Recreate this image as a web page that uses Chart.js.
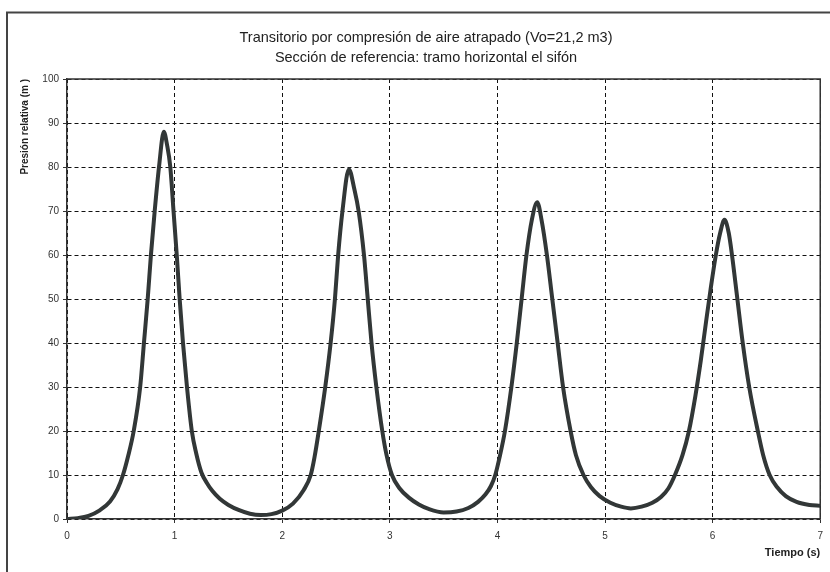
<!DOCTYPE html>
<html>
<head>
<meta charset="utf-8">
<script src="https://cdn.jsdelivr.net/npm/chart.js@4.4.0/dist/chart.umd.min.js"></script>
<style>
  html, body { margin: 0; padding: 0; background: #fff; }
  #wrap { width: 830px; height: 572px; }
</style>
</head>
<body>
<div id="wrap"><canvas id="presionChart" width="830" height="572"></canvas></div>
<script>
// tiempo (s) y presion relativa (m)
const tiempo = [
  0, 0.1, 0.2, 0.3, 0.4, 0.47, 0.52, 0.57, 0.62, 0.68,
  0.715, 0.75, 0.78, 0.815, 0.855, 0.9, 0.93, 0.96, 0.99, 1.02,
  1.047, 1.078, 1.115, 1.16, 1.2, 1.25, 1.3, 1.35, 1.42, 1.5,
  1.6, 1.7, 1.8, 1.9, 2.0, 2.1, 2.2, 2.265, 2.3, 2.34,
  2.4, 2.45, 2.49, 2.52, 2.56, 2.62, 2.67, 2.71, 2.76, 2.795,
  2.83, 2.875, 2.93, 2.97, 3.02, 3.09, 3.18, 3.27, 3.36, 3.5,
  3.62, 3.73, 3.82, 3.89, 3.94, 3.98, 4.02, 4.07, 4.13, 4.18,
  4.225, 4.27, 4.32, 4.37, 4.41, 4.46, 4.51, 4.56, 4.61, 4.68,
  4.73, 4.8, 4.87, 4.95, 5.05, 5.15, 5.24, 5.34, 5.44, 5.52,
  5.59, 5.65, 5.72, 5.78, 5.84, 5.89, 5.94, 5.98, 6.03, 6.07,
  6.11, 6.15, 6.18, 6.23, 6.28, 6.34, 6.42, 6.47, 6.53, 6.6,
  6.68, 6.78, 6.9, 7.0
];
const presion = [
  0, 0.2, 0.7, 1.9, 4.0, 6.8, 10, 14.5, 20, 30,
  40, 50, 60, 70, 80, 88, 85, 80, 70, 60,
  50, 40, 30, 20, 15, 10.5, 8.2, 6.4, 4.6, 3.2,
  2.0, 1.2, 0.9, 1.1, 1.9, 3.5, 6.6, 10, 14, 20,
  30, 40, 50, 60, 70, 79.5, 75, 70, 60, 50,
  40, 30, 20, 14.5, 10, 7.0, 4.8, 3.3, 2.3, 1.5,
  1.7, 2.5, 3.9, 5.6, 7.5, 10, 14, 20, 30, 40,
  50, 60, 68, 72, 68, 60, 50, 40, 30, 20,
  14.5, 10, 7.2, 5.2, 3.7, 2.8, 2.4, 2.8, 3.7, 5.0,
  7.0, 10, 14.5, 20, 28, 36, 45, 52, 60, 65,
  68, 65, 60, 50, 40, 30, 20, 14.5, 10, 7.2,
  5.2, 3.9, 3.2, 3.0
];

const titulo = [
  'Transitorio por compresión de aire atrapado (Vo=21,2 m3)',
  'Sección de referencia: tramo horizontal el sifón'
];
const tituloEjeX = 'Tiempo (s)';
const tituloEjeY = 'Presión relativa (m )';
const limitesX = [0, 7];
const limitesY = [0, 100];

const fuente = 'Liberation Sans, Arial, sans-serif';

const puntos = tiempo.map((t, i) => ({ x: t, y: presion[i] }));

// marco exterior y borde superior/derecho del area de trazado
const marco = {
  id: 'marco',
  beforeDraw(chart) {
    const ctx = chart.ctx;
    ctx.save();
    ctx.fillStyle = '#fff';
    ctx.fillRect(0, 0, chart.width, chart.height);
    ctx.restore();
  },
  beforeDatasetsDraw(chart) {
    const { ctx, chartArea: a } = chart;
    ctx.save();
    ctx.strokeStyle = '#444';
    ctx.lineWidth = 2;
    ctx.strokeRect(7, 12.5, 900, 700);
    ctx.strokeStyle = '#333';
    ctx.lineWidth = 1.5;
    ctx.beginPath();
    ctx.moveTo(a.left, a.top);
    ctx.lineTo(a.right, a.top);
    ctx.lineTo(a.right, a.bottom);
    ctx.stroke();
    ctx.restore();
  }
};

const ctx = document.getElementById('presionChart').getContext('2d');

const presionChart = new Chart(ctx, {
  type: 'line',
  data: {
    datasets: [{
      label: 'Presión relativa',
      data: puntos,
      borderColor: '#323737',
      borderWidth: 4,
      pointRadius: 0,
      fill: false,
      cubicInterpolationMode: 'monotone'
    }]
  },
  options: {
    responsive: false,
    animation: false,
    devicePixelRatio: 1,
    layout: { padding: { left: 29, right: 7, top: 0, bottom: 0 } },
    plugins: {
      legend: { display: false },
      tooltip: { enabled: false },
      title: {
        display: true,
        text: titulo,
        color: '#222',
        font: { family: fuente, size: 14.5, weight: 'normal', lineHeight: '20px' },
        padding: { top: 28, bottom: 11 }
      }
    },
    scales: {
      x: {
        type: 'linear',
        min: limitesX[0],
        max: limitesX[1],
        afterFit(scale) { scale.height = 53; },
        ticks: {
          stepSize: 1,
          color: '#333',
          padding: 7,
          maxRotation: 0,
          font: { family: fuente, size: 10 }
        },
        grid: {
          color: '#111',
          lineWidth: 1,
          tickLength: 4,
          tickColor: '#333',
          tickBorderDash: []
        },
        border: { color: '#333', width: 1.5, dash: [4, 3] },
        title: {
          display: true,
          text: tituloEjeX,
          align: 'end',
          color: '#222',
          font: { family: fuente, size: 11, weight: 'bold' },
          padding: { top: 0, bottom: 12 }
        }
      },
      y: {
        min: limitesY[0],
        max: limitesY[1],
        afterFit(scale) { scale.width = 38; },
        ticks: {
          stepSize: 10,
          color: '#333',
          padding: 4,
          font: { family: fuente, size: 10 }
        },
        grid: {
          color: '#111',
          lineWidth: 1,
          tickLength: 4,
          tickColor: '#333',
          tickBorderDash: []
        },
        border: { color: '#333', width: 1.5, dash: [4, 3] },
        title: {
          display: true,
          text: tituloEjeY,
          align: 'end',
          color: '#222',
          font: { family: fuente, size: 10, weight: 'bold' },
          padding: { top: -10, bottom: 0 }
        }
      }
    }
  },
  plugins: [marco]
});
</script>
</body>
</html>
